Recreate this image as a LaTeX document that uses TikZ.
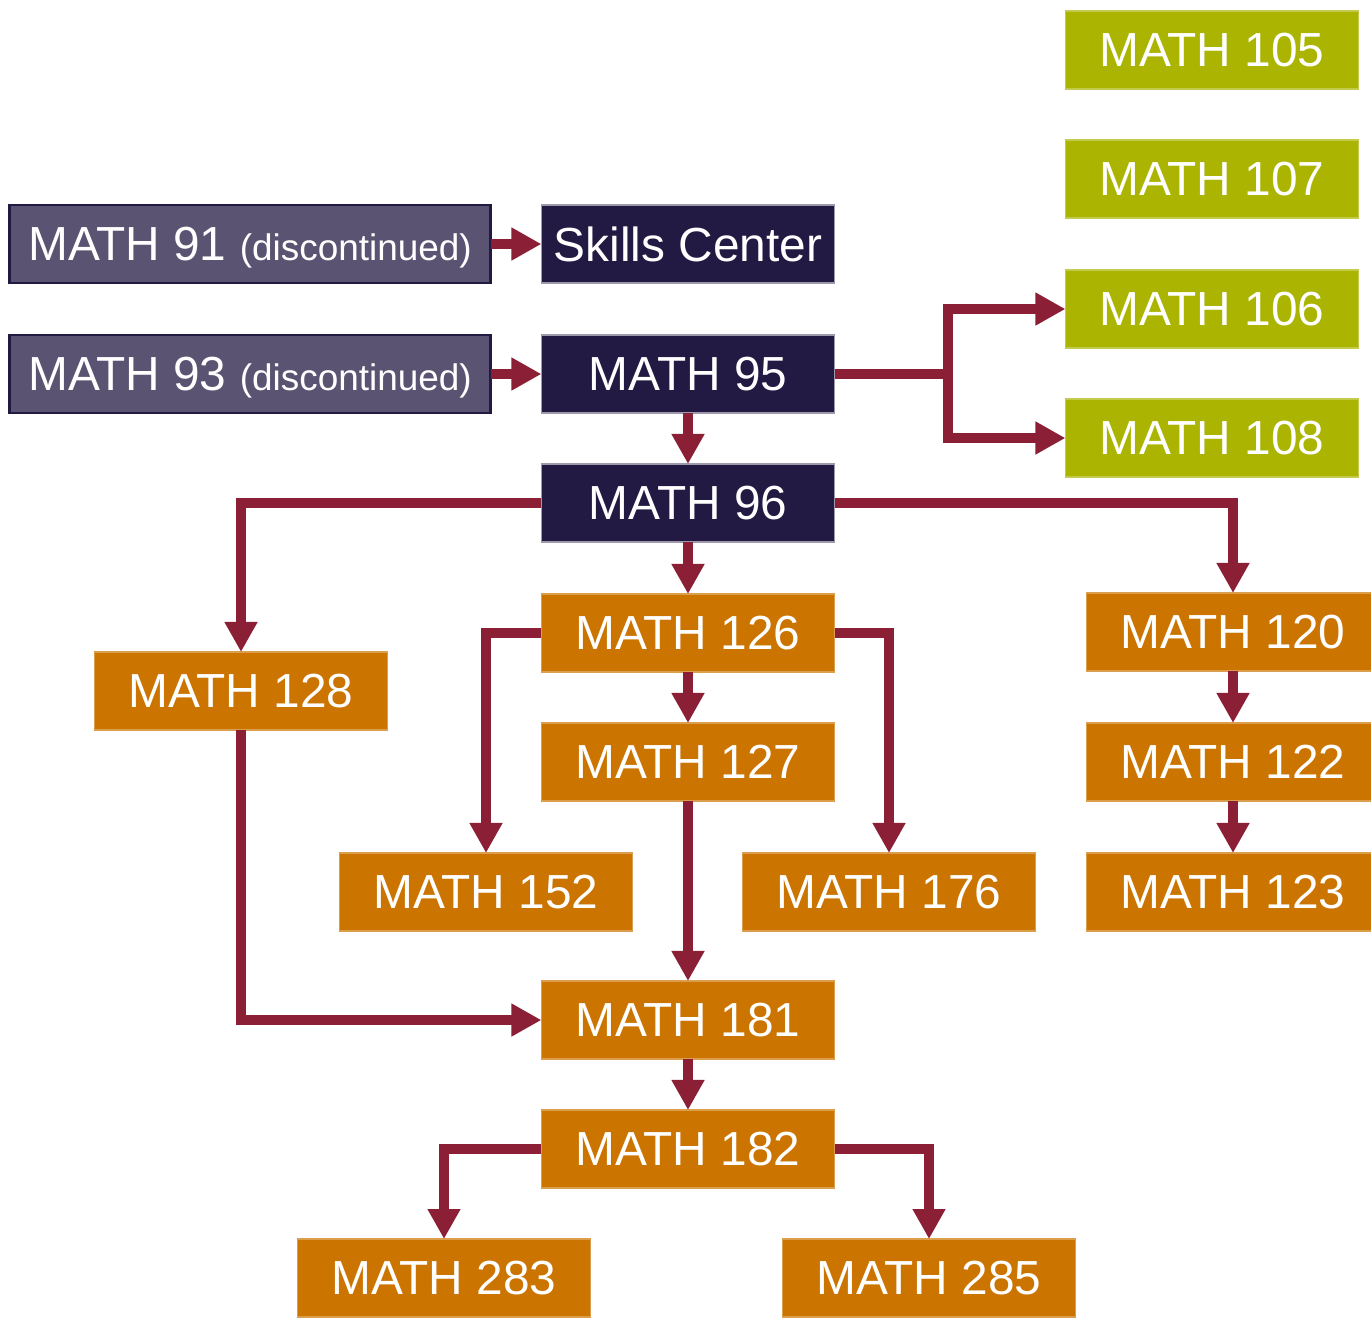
\documentclass[tikz,border=0pt]{standalone}
\usepackage{fontspec}
\setmainfont{Liberation Sans}
\usetikzlibrary{arrows.meta}
\definecolor{navybox}{HTML}{221A42}
\definecolor{greybox}{HTML}{5B5372}
\definecolor{greenbox}{HTML}{ABB400}
\definecolor{orangebox}{HTML}{CC7400}
\definecolor{linkred}{HTML}{8B1F35}
\tikzset{
  course/.style={minimum width=2.93cm, minimum height=0.78cm, inner sep=0pt, outer sep=0pt,
    text=white, font=\fontsize{13.6}{15}\selectfont},
  old/.style={course, fill=greybox, draw=navybox, line width=0.7pt, minimum width=4.81cm,
    text depth=0pt},
  dark/.style={course, fill=navybox, draw=greybox!60, line width=0.4pt},
  green/.style={course, fill=greenbox, draw=greenbox!70!white, line width=0.4pt},
  orange/.style={course, fill=orangebox, draw=orangebox!70!white, line width=0.4pt},
  arr/.style={draw=linkred, line width=3.1pt, line join=miter,
    -{Triangle[width=0.31cm, length=0.3cm]}}
}
\newcommand{\discnote}{\fontsize{10.5}{12}\selectfont}
\begin{document}
\begin{tikzpicture}[x=0.01cm, y=-0.01cm]
  \useasboundingbox (0,0) rectangle (1371,1317);
  % courses
  \node[green] (m105) at (1212,50) {MATH 105};
  \node[green] (m107) at (1212,179) {MATH 107};
  \node[green] (m106) at (1212,309) {MATH 106};
  \node[green] (m108) at (1212,438) {MATH 108};
  \node[old] (m91) at (250,244) {MATH 91 {\discnote(discontinued)}};
  \node[dark] (skills) at (688,244) {Skills Center};
  \node[old] (m93) at (250,374) {MATH 93 {\discnote(discontinued)}};
  \node[dark] (m95) at (688,374) {MATH 95};
  \node[dark] (m96) at (688,503) {MATH 96};
  \node[orange] (m126) at (688,633) {MATH 126};
  \node[orange] (m120) at (1233,632) {MATH 120};
  \node[orange] (m128) at (241,691) {MATH 128};
  \node[orange] (m127) at (688,762) {MATH 127};
  \node[orange] (m122) at (1233,762) {MATH 122};
  \node[orange] (m152) at (486,892) {MATH 152};
  \node[orange] (m176) at (889,892) {MATH 176};
  \node[orange] (m123) at (1233,892) {MATH 123};
  \node[orange] (m181) at (688,1020) {MATH 181};
  \node[orange] (m182) at (688,1149) {MATH 182};
  \node[orange] (m283) at (444,1278) {MATH 283};
  \node[orange] (m285) at (929,1278) {MATH 285};
  \coordinate (split95) at (948,374);
  % links
  \draw[arr] (m91) -- (skills);
  \draw[arr] (m93) -- (m95);
  \draw[arr] (m95.east) -- (split95) |- (m106.west);
  \draw[arr] (split95) |- (m108.west);
  \draw[arr] (m95) -- (m96);
  \draw[arr] (m96.west) -| (m128.north);
  \draw[arr] (m96.east) -| (m120.north);
  \draw[arr] (m96) -- (m126);
  \draw[arr] (m126.west) -| (m152.north);
  \draw[arr] (m126.east) -| (m176.north);
  \draw[arr] (m126) -- (m127);
  \draw[arr] (m127) -- (m181);
  \draw[arr] (m128.south) |- (m181.west);
  \draw[arr] (m120) -- (m122);
  \draw[arr] (m122) -- (m123);
  \draw[arr] (m181) -- (m182);
  \draw[arr] (m182.west) -| (m283.north);
  \draw[arr] (m182.east) -| (m285.north);
\end{tikzpicture}
\end{document}
